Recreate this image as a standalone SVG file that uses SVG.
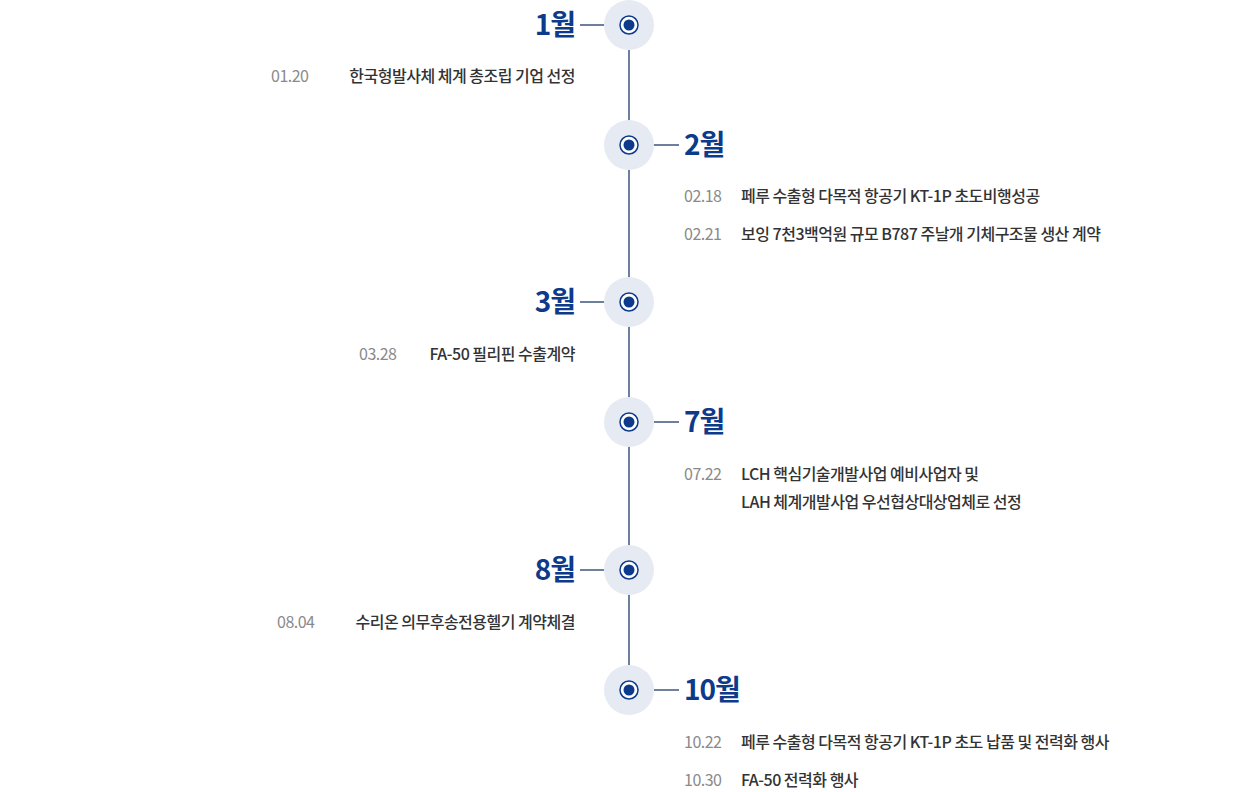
<svg xmlns="http://www.w3.org/2000/svg" width="1258" height="792" viewBox="0 0 1258 792">
<style>
.m{font-family:"Noto Sans CJK KR","Noto Sans",sans-serif;font-size:28px;font-weight:700;fill:#0d3a8a;letter-spacing:-1px}
.d{font-family:"Noto Sans CJK KR","Noto Sans",sans-serif;font-size:16px;fill:#8a8a8a;letter-spacing:-0.5px}
.t{font-family:"Noto Sans CJK KR","Noto Sans",sans-serif;font-size:16px;font-weight:500;fill:#333;letter-spacing:-0.5px}
.c{stroke:#0d2a5a;stroke-width:1.2}
</style>
<defs>
<g id="dot"><circle r="25" fill="#e6eaf3"/><circle r="9" fill="#fff" stroke="#0d3a8a" stroke-width="1.5"/><circle r="5.5" fill="#0d3a8a"/></g>
</defs>
<g id="connectors">
<line class="c" x1="629" y1="50" x2="629" y2="665"/>
<line class="c" x1="580" y1="25" x2="604" y2="25"/>
<line class="c" x1="654" y1="145" x2="679" y2="145"/>
<line class="c" x1="580" y1="302" x2="604" y2="302"/>
<line class="c" x1="654" y1="422" x2="679" y2="422"/>
<line class="c" x1="580" y1="570" x2="604" y2="570"/>
<line class="c" x1="654" y1="690" x2="679" y2="690"/>
</g>
<g id="n1"><use href="#dot" x="629" y="25"/><text class="m" x="575" y="35" text-anchor="end">1월</text>
<text class="d" x="271" y="82">01.20</text><text class="t" x="575" y="82" text-anchor="end">한국형발사체 체계 총조립 기업 선정</text></g>
<g id="n2"><use href="#dot" x="629" y="145"/><text class="m" x="684" y="155">2월</text>
<text class="d" x="684" y="202">02.18</text><text class="t" x="741" y="202">페루 수출형 다목적 항공기 KT-1P 초도비행성공</text>
<text class="d" x="684" y="240">02.21</text><text class="t" x="741" y="240">보잉 7천3백억원 규모 B787 주날개 기체구조물 생산 계약</text></g>
<g id="n3"><use href="#dot" x="629" y="302"/><text class="m" x="575" y="312" text-anchor="end">3월</text>
<text class="d" x="359" y="360">03.28</text><text class="t" x="575" y="360" text-anchor="end">FA-50 필리핀 수출계약</text></g>
<g id="n7"><use href="#dot" x="629" y="422"/><text class="m" x="684" y="432">7월</text>
<text class="d" x="684" y="480">07.22</text><text class="t" x="741" y="480">LCH 핵심기술개발사업 예비사업자 및</text><text class="t" x="741" y="508">LAH 체계개발사업 우선협상대상업체로 선정</text></g>
<g id="n8"><use href="#dot" x="629" y="570"/><text class="m" x="575" y="580" text-anchor="end">8월</text>
<text class="d" x="277" y="628">08.04</text><text class="t" x="575" y="628" text-anchor="end">수리온 의무후송전용헬기 계약체결</text></g>
<g id="n10"><use href="#dot" x="629" y="690"/><text class="m" x="684" y="700">10월</text>
<text class="d" x="684" y="748">10.22</text><text class="t" x="741" y="748">페루 수출형 다목적 항공기 KT-1P 초도 납품 및 전력화 행사</text>
<text class="d" x="684" y="786">10.30</text><text class="t" x="741" y="786">FA-50 전력화 행사</text></g>
</svg>
